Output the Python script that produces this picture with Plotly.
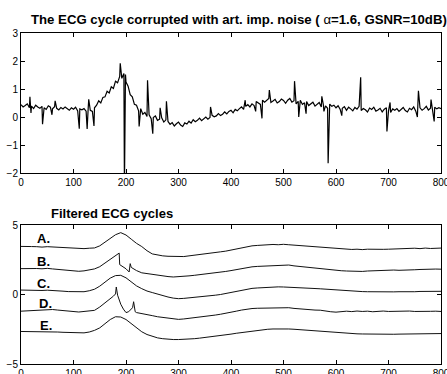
import plotly.graph_objects as go

# ---------------- Top panel: noisy ECG (base samples every 4 units) ----------------
noisy_step = 4
noisy_base = [
    0.44, 0.36, 0.41, 0.47, 0.33, 0.39, 0.30, 0.42, 0.36, 0.31,
    0.38, 0.33, 0.27, 0.40, 0.35, 0.29, 0.37, 0.31, 0.25, 0.34,
    0.29, 0.36, 0.31, 0.24, 0.33, 0.28, 0.35, 0.22, 0.29, 0.26,
    0.30, 0.21, 0.32, 0.24, 0.20, 0.33, 0.42, 0.58, 0.50, 0.70,
    0.72, 0.92, 0.86, 1.08, 1.02, 1.28, 1.22, 1.45, 1.38, 1.55,
    1.25, 1.10, 0.80, 0.72, 0.45, 0.42, 0.22, 0.30, 0.10, 0.16,
    0.02, 0.08, -0.06, -0.02, 0.04, -0.12, -0.08, -0.03, -0.18, -0.10,
    -0.16, -0.26, -0.20, -0.32, -0.24, -0.18, -0.29, -0.34, -0.21, -0.25,
    -0.15, -0.22, -0.10, -0.17, -0.12, -0.04, -0.13, -0.06, 0.00, -0.08,
    -0.02, 0.06, 0.01, 0.04, 0.12, 0.05, 0.10, 0.18, 0.11, 0.20,
    0.24, 0.15, 0.27, 0.22, 0.30, 0.36, 0.27, 0.38, 0.44, 0.36,
    0.47, 0.41, 0.55, 0.50, 0.45, 0.60, 0.53, 0.58, 0.66, 0.52,
    0.57, 0.63, 0.50, 0.55, 0.64, 0.59, 0.49, 0.60, 0.66, 0.53,
    0.58, 0.47, 0.56, 0.60, 0.45, 0.51, 0.55, 0.41, 0.48, 0.53,
    0.39, 0.47, 0.52, 0.36, 0.43, 0.40, 0.31, 0.46, 0.38, 0.42,
    0.33, 0.40, 0.27, 0.31, 0.37, 0.24, 0.35, 0.29, 0.22, 0.34,
    0.28, 0.38, 0.23, 0.30, 0.26, 0.18, 0.32, 0.27, 0.35, 0.21,
    0.25, 0.31, 0.18, 0.28, 0.33, 0.22, 0.16, 0.29, 0.24, 0.30,
    0.20, 0.27, 0.34, 0.23, 0.18, 0.31, 0.26, 0.36, 0.21, 0.28,
    0.33, 0.24, 0.30, 0.38, 0.25, 0.31, 0.22, 0.35, 0.29, 0.33,
    0.30,
]
# impulsive noise samples (position, value)
impulse_x = [17, 19, 41, 59, 65, 111, 126, 129, 139, 189, 197, 199, 225, 241, 251,
             265, 277, 361, 427, 447, 459, 473, 521, 529, 543, 573, 577, 585, 611,
             647, 697, 703, 755, 757, 781, 787]
impulse_y = [0.72, 0.14, -0.26, 0.08, 0.58, -0.42, -0.43, 0.63, -0.32, 1.92, -2.6, 1.52,
             -0.34, 1.31, -0.60, 0.33, 0.56, 0.36, 0.60, 0.20, -0.05, 0.96, 1.28, 0.0,
             0.12, 0.74, 0.20, -1.65, 0.05, 1.42, -0.52, 0.52, 0.0, 0.94, 0.62, -0.16]

# ---------------- Bottom panel: filtered cycles (grid every 10 units) ----------------
grid_step = 10
curve_A = [3.46, 3.48, 3.45, 3.44, 3.41, 3.44, 3.42, 3.38, 3.36, 3.34,
           3.33, 3.31, 3.30, 3.33, 3.35, 3.50, 3.75, 4.00, 4.30, 4.45,
           4.28, 3.98, 3.68, 3.45, 3.15, 2.92, 2.83, 2.78, 2.75, 2.73,
           2.71, 2.73, 2.78, 2.82, 2.87, 2.92, 2.97, 3.02, 3.07, 3.12,
           3.19, 3.27, 3.36, 3.45, 3.50, 3.53, 3.57, 3.59, 3.60, 3.58,
           3.61, 3.58, 3.55, 3.53, 3.51, 3.49, 3.47, 3.44, 3.40, 3.36,
           3.31, 3.28, 3.25, 3.24, 3.26, 3.23, 3.26, 3.24, 3.27, 3.25,
           3.26, 3.28, 3.30, 3.27, 3.31, 3.33, 3.30, 3.34, 3.31, 3.35,
           3.34]
curve_B = [1.86, 1.88, 1.90, 1.87, 1.85, 1.88, 1.84, 1.80, 1.76, 1.72,
           1.69, 1.67, 1.70, 1.76, 1.84, 2.00, 2.25, 2.50, 2.80, 2.10,
           1.85, 1.95, 1.72, 1.56, 1.50, 1.45, 1.38, 1.33, 1.29, 1.26,
           1.27, 1.30, 1.34, 1.38, 1.42, 1.46, 1.50, 1.55, 1.60, 1.66,
           1.72, 1.80, 1.88, 1.95, 1.99, 2.02, 2.04, 2.06, 2.08, 2.07,
           2.10, 2.12, 2.06, 2.02, 1.97, 1.92, 1.88, 1.84, 1.80, 1.75,
           1.74, 1.71, 1.69, 1.67, 1.68, 1.66, 1.69, 1.71, 1.70, 1.73,
           1.74, 1.76, 1.74, 1.77, 1.79, 1.78, 1.80, 1.82, 1.80, 1.83,
           1.82]
B_feat_x = [185, 187, 188, 206, 208]
B_feat_y = [2.92, 2.98, 2.15, 1.62, 2.22]
curve_C = [0.32, 0.30, 0.33, 0.31, 0.29, 0.31, 0.30, 0.27, 0.24, 0.21,
           0.19, 0.18, 0.20, 0.27, 0.38, 0.60, 0.92, 1.18, 1.36, 1.38,
           1.20, 0.90, 0.62, 0.42, 0.25, 0.14, 0.02, -0.08, -0.18, -0.26,
           -0.30, -0.28, -0.25, -0.22, -0.18, -0.14, -0.10, -0.05, 0.00, 0.08,
           0.16, 0.24, 0.32, 0.40, 0.44, 0.47, 0.50, 0.52, 0.54, 0.55,
           0.54, 0.53, 0.51, 0.49, 0.47, 0.45, 0.43, 0.41, 0.38, 0.35,
           0.31, 0.28, 0.26, 0.24, 0.23, 0.21, 0.20, 0.19, 0.18, 0.19,
           0.18, 0.19, 0.20, 0.19, 0.21, 0.20, 0.22, 0.21, 0.23, 0.22,
           0.23]
curve_D = [-1.20, -1.18, -1.14, -1.10, -1.08, -1.06, -1.08, -1.12, -1.16, -1.20,
           -1.24, -1.26, -1.22, -1.18, -1.14, -0.90, -0.62, -0.32, 0.04, -0.70,
           -1.30, -1.08, -1.30, -1.36, -1.44, -1.52, -1.60, -1.66, -1.72, -1.77,
           -1.79, -1.76, -1.72, -1.67, -1.62, -1.58, -1.54, -1.48, -1.42, -1.36,
           -1.28, -1.20, -1.12, -1.05, -1.01, -0.99, -0.98, -1.00, -0.97, -0.96,
           -0.97, -0.95, -1.00, -1.04, -1.07, -1.10, -1.12, -1.13, -1.20, -1.24,
           -1.27, -1.22, -1.20, -1.23, -1.19, -1.22, -1.20, -1.24, -1.21, -1.19,
           -1.22, -1.20, -1.23, -1.21, -1.19, -1.22, -1.20, -1.23, -1.21, -1.20,
           -1.22]
D_feat_x = [176, 181.5, 184, 187, 195, 205, 212.5, 214.5, 217.5]
D_feat_y = [-0.12, 0.54, -0.05, -0.40, -1.05, -1.24, -0.95, -0.52, -1.24]
curve_E = [-2.66, -2.66, -2.66, -2.67, -2.67, -2.68, -2.69, -2.70, -2.72, -2.74,
           -2.75, -2.76, -2.76, -2.70, -2.58, -2.40, -2.10, -1.80, -1.60, -1.62,
           -1.80, -2.10, -2.42, -2.68, -2.88, -3.02, -3.12, -3.18, -3.22, -3.24,
           -3.24, -3.23, -3.21, -3.18, -3.14, -3.10, -3.06, -3.01, -2.96, -2.90,
           -2.85, -2.79, -2.74, -2.68, -2.62, -2.57, -2.53, -2.50, -2.48, -2.47,
           -2.47, -2.48, -2.50, -2.53, -2.56, -2.59, -2.62, -2.65, -2.69, -2.72,
           -2.75, -2.78, -2.80, -2.82, -2.83, -2.84, -2.85, -2.86, -2.86, -2.86,
           -2.86, -2.86, -2.85, -2.85, -2.84, -2.84, -2.83, -2.83, -2.82, -2.82,
           -2.81]

curve_labels = ["A.", "B.", "C.", "D.", "E."]
label_x = [42, 42, 42, 47, 47]
label_y = [4.03, 2.35, 0.78, -0.66, -2.22]

x_ticks = [0, 100, 200, 300, 400, 500, 600, 700, 800]
top_y_ticks = [-2, -1, 0, 1, 2, 3]
bottom_y_ticks = [-5, 0, 5]

top_title = "<b>The ECG cycle corrupted with art. imp. noise ( </b>α<b>=1.6, GSNR=10dB)</b>"
bottom_title = "<b>Filtered ECG cycles</b>"


def merged(step, values, fx=(), fy=()):
    pts = [(i * step, v) for i, v in enumerate(values)] + list(zip(fx, fy))
    pts.sort(key=lambda p: p[0])
    return [p[0] for p in pts], [p[1] for p in pts]


FONT = "Liberation Sans, Arial, Helvetica, sans-serif"
W, H = 447, 374
L, R = 21, 6

fig = go.Figure()

tx, ty = merged(noisy_step, noisy_base, impulse_x, impulse_y)
fig.add_trace(go.Scatter(x=tx, y=ty, mode="lines", line=dict(color="black", width=1.2),
                         xaxis="x", yaxis="y", showlegend=False, hoverinfo="skip"))

for vals, fx, fy in [(curve_A, (), ()), (curve_B, B_feat_x, B_feat_y), (curve_C, (), ()),
                     (curve_D, D_feat_x, D_feat_y), (curve_E, (), ())]:
    cx, cy = merged(grid_step, vals, fx, fy)
    fig.add_trace(go.Scatter(x=cx, y=cy, mode="lines", line=dict(color="#111111", width=1),
                             xaxis="x2", yaxis="y2", showlegend=False, hoverinfo="skip"))

axis_common = dict(showline=True, linecolor="black", linewidth=1, mirror="ticks",
                   ticks="inside", ticklen=4, tickwidth=1, tickcolor="black",
                   showgrid=False, zeroline=False, ticklabeloverflow="allow",
                   automargin=False,
                   tickfont=dict(family=FONT, size=10, color="black"))

fig.update_layout(
    template="none",
    width=W, height=H,
    margin=dict(l=L, r=R, t=0, b=0, pad=0, autoexpand=False),
    paper_bgcolor="white", plot_bgcolor="white",
    xaxis=dict(domain=[0, 1], range=[0, 800], tickvals=x_ticks, anchor="y", **axis_common),
    yaxis=dict(domain=[1 - 173 / H, 1 - 33 / H], range=[-2, 3], tickvals=top_y_ticks,
               anchor="x", **axis_common),
    xaxis2=dict(domain=[0, 1], range=[0, 800], tickvals=x_ticks, anchor="y2", **axis_common),
    yaxis2=dict(domain=[1 - 364 / H, 1 - 225 / H], range=[-5, 5], tickvals=bottom_y_ticks,
                anchor="x2", **axis_common),
    annotations=[
        dict(text=top_title, xref="paper", yref="paper", x=(239 - L) / (W - L - R),
             y=1 - 20 / H, xanchor="center", yanchor="middle", showarrow=False,
             font=dict(family=FONT, size=13.2, color="black")),
        dict(text=bottom_title, xref="paper", yref="paper", x=(111.5 - L) / (W - L - R),
             y=1 - 214 / H, xanchor="center", yanchor="middle", showarrow=False,
             font=dict(family=FONT, size=13, color="black")),
    ] + [
        dict(text="<b>%s</b>" % t, xref="x2", yref="y2", x=lx, y=ly, xanchor="center",
             yanchor="middle", showarrow=False, font=dict(family=FONT, size=13, color="black"))
        for t, lx, ly in zip(curve_labels, label_x, label_y)
    ],
)

fig.write_html("out.html",
               config={"displayModeBar": False, "staticPlot": True},
               post_script="document.body.style.margin='0';document.body.style.overflow='hidden';")
